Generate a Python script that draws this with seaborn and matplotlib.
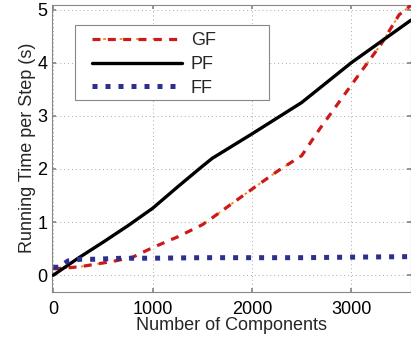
import numpy as np
import pandas as pd
import seaborn as sns
import matplotlib.pyplot as plt
from matplotlib.patches import Rectangle
from matplotlib.legend_handler import HandlerTuple

pf_x = [0, 250, 500, 750, 1000, 1250, 1500, 1600, 2000, 2500, 3000, 3600]
pf_y = [0.0, 0.32, 0.62, 0.93, 1.26, 1.66, 2.05, 2.2, 2.66, 3.25, 4.0, 4.8]

gf_x = [0, 150, 270, 400, 600, 800, 1000, 1250, 1500, 1600, 2000, 2250, 2500, 2680, 3000, 3300, 3480, 3600]
gf_y = [0.12, 0.14, 0.16, 0.2, 0.26, 0.34, 0.52, 0.72, 0.95, 1.08, 1.62, 1.95, 2.25, 2.75, 3.58, 4.35, 4.9, 5.08]

ff_x = [0, 60, 150, 270, 400, 550, 700, 1000, 1500, 2000, 2500, 3000, 3600]
ff_y = [0.15, 0.15, 0.27, 0.3, 0.3, 0.31, 0.32, 0.32, 0.33, 0.33, 0.33, 0.34, 0.35]

sns.set_theme(style="ticks")
plt.rcParams["font.family"] = ["Liberation Sans", "DejaVu Sans"]

fig = plt.figure(figsize=(4.11, 3.38), dpi=100)
ax = fig.add_axes([0.126, 0.137, 0.874, 0.849])

pf = pd.DataFrame({"x": pf_x, "y": pf_y})
gf = pd.DataFrame({"x": gf_x, "y": gf_y})
ff = pd.DataFrame({"x": ff_x, "y": ff_y})

# GF: red dashes with small orange dots in the gaps (same period, shifted)
sns.lineplot(data=gf, x="x", y="y", ax=ax, color="#f09020", linewidth=1.4,
             linestyle=(2.73, (1.4, 7.09)), zorder=3)
sns.lineplot(data=gf, x="x", y="y", ax=ax, color="#cc1a1a", linewidth=2.3,
             linestyle=(0, (2.5, 2.3)), zorder=3)
sns.lineplot(data=pf, x="x", y="y", ax=ax, color="black", linewidth=2.4, zorder=4)
sns.lineplot(data=ff, x="x", y="y", ax=ax, color="#2d2f8e", linewidth=3.6,
             linestyle=(0, (1, 1.6)), zorder=5)

lines = ax.get_lines()
for ln in lines:
    ln.set_dash_capstyle("butt")

ax.set_xlim(-15, 3600)
ax.set_ylim(-0.31, 5.09)
ax.set_xticks([0, 1000, 2000, 3000])
ax.set_yticks([0, 1, 2, 3, 4, 5])
ax.tick_params(direction="in", length=3, labelsize=13, colors="#888888",
               labelcolor="black", top=True, right=True, pad=3)
ax.tick_params(axis="x", pad=7)
for s in ax.spines.values():
    s.set_visible(True)
    s.set_color("#888888")
    s.set_linewidth(0.8)
ax.grid(True, linestyle=(0, (1, 3)), color="#aaaaaa", linewidth=0.7)
ax.set_xlabel("Number of Components", fontsize=13, labelpad=-1)
ax.set_ylabel("Running Time per Step (s)", fontsize=13, labelpad=1)

# legend box is wider than its contents in the original
ax.add_patch(Rectangle((0.065, 0.668), 0.54, 0.261, transform=ax.transAxes,
                       facecolor="white", edgecolor="#888888", linewidth=0.8, zorder=6))
leg = ax.legend([(lines[0], lines[1]), lines[2], lines[3]], ["GF", "PF", "FF"],
                handler_map={tuple: HandlerTuple(ndivide=1, pad=0)},
                loc="upper left", bbox_to_anchor=(0.113, 0.905), borderaxespad=0,
                fontsize=13, handlelength=4.95, handletextpad=0.5, labelspacing=0.38,
                frameon=False, borderpad=0)
leg.set_zorder(7)

fig.savefig("out.png", dpi=100)
